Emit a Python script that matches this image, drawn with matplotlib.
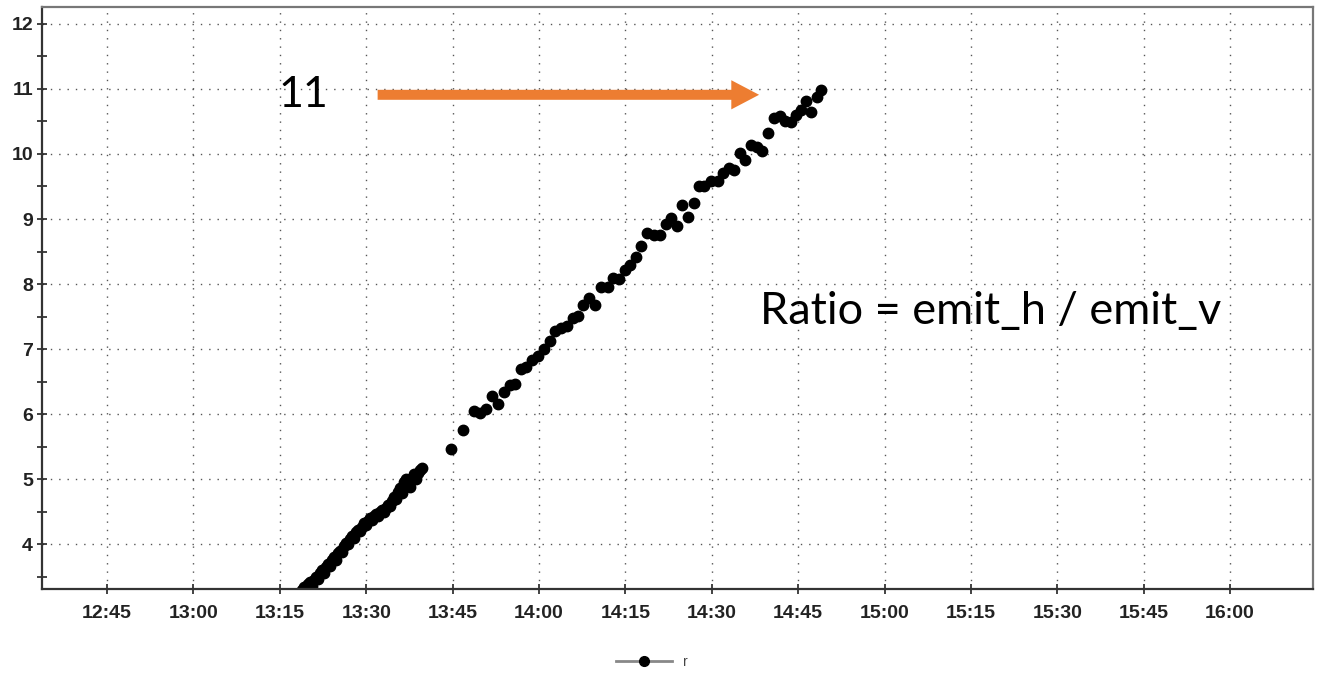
#####################################
# Import Modules
#####################################

import datetime

import matplotlib
matplotlib.use("Agg")
import matplotlib.pyplot as plt
import matplotlib.dates as mdates
from matplotlib.lines import Line2D
from matplotlib.ticker import MultipleLocator

#####################################
# Data - ratio r
# times are minutes after 13:00
#####################################

BASE = datetime.datetime(2020, 1, 1, 13, 0)

minutes = [
    18.9, 19.2, 19.6, 19.9, 20.2, 20.6, 20.9, 21.3, 21.6, 22.0,
    22.3, 22.7, 23.0, 23.3, 23.7, 24.0, 24.4, 24.7, 25.1, 25.4,
    25.8, 26.1, 26.5, 26.8, 27.2, 27.5, 27.9, 28.2, 28.6, 28.9,
    29.3, 29.6, 30.0, 30.3, 30.7, 31.0, 31.4, 31.7, 32.0, 32.4,
    32.7, 33.1, 33.4, 33.8, 34.1, 34.5, 34.8, 35.2, 35.5, 35.9,
    36.2, 36.6, 36.9, 37.3, 37.6, 38.0, 38.3, 38.6, 39.0, 39.3,
    39.7,
    44.7, 46.8, 48.8, 49.8, 50.8, 51.9, 52.9, 53.9, 55.0, 55.9,
    56.9, 57.8, 58.8, 59.8, 60.8, 61.9, 62.8, 63.8, 64.8, 65.9,
    66.8, 67.7, 68.7, 69.7, 70.7, 71.9, 72.9, 73.9, 74.9, 75.8,
    76.9, 77.8, 78.8, 79.9, 81.0, 82.0, 82.9, 83.9, 84.9, 85.8,
    86.9, 87.8, 88.7, 89.9, 91.0, 92.0, 93.0, 93.9, 94.9, 95.8,
    96.8, 97.8, 98.8, 99.8, 100.8, 101.9, 102.7, 103.7, 104.6, 105.5,
    106.4, 107.2, 108.2, 109.0,
]

ratio = [
    3.30, 3.34, 3.31, 3.38, 3.42, 3.36, 3.45, 3.50, 3.47, 3.56,
    3.60, 3.55, 3.65, 3.70, 3.66, 3.76, 3.80, 3.75, 3.86, 3.90,
    3.88, 3.97, 4.02, 4.00, 4.08, 4.12, 4.10, 4.18, 4.22, 4.20,
    4.27, 4.32, 4.29, 4.36, 4.40, 4.37, 4.44, 4.47, 4.43, 4.50,
    4.52, 4.49, 4.56, 4.60, 4.58, 4.66, 4.72, 4.70, 4.80, 4.86,
    4.78, 4.95, 5.00, 4.90, 4.88, 5.02, 5.08, 5.00, 5.10, 5.14,
    5.17,
    5.47, 5.76, 6.04, 6.01, 6.08, 6.28, 6.15, 6.34, 6.44, 6.47,
    6.69, 6.73, 6.83, 6.89, 7.00, 7.12, 7.28, 7.32, 7.35, 7.47,
    7.51, 7.68, 7.79, 7.68, 7.96, 7.96, 8.10, 8.07, 8.22, 8.30,
    8.42, 8.59, 8.79, 8.76, 8.76, 8.93, 9.01, 8.89, 9.22, 9.03,
    9.25, 9.50, 9.50, 9.59, 9.59, 9.71, 9.78, 9.75, 10.02, 9.91,
    10.14, 10.10, 10.04, 10.32, 10.56, 10.58, 10.50, 10.49, 10.60, 10.67,
    10.82, 10.64, 10.88, 10.98,
]

times = [BASE + datetime.timedelta(minutes=m) for m in minutes]


def at(m):
    """Time m minutes after 13:00."""
    return BASE + datetime.timedelta(minutes=m)


#####################################
# Figure
#####################################

plt.rcParams["font.family"] = ["Liberation Sans", "DejaVu Sans"]

fig = plt.figure(figsize=(13.2, 6.74), dpi=100)
ax = fig.add_axes([0.0318, 0.1261, 0.9629, 0.8635])

ax.plot(times, ratio, linestyle="none", marker="o", markersize=7.5,
        color="black")

ax.set_xlim(at(-26.3), at(194.4))
ax.set_ylim(3.31, 12.26)

ax.xaxis.set_major_locator(mdates.MinuteLocator(byminute=[0, 15, 30, 45]))
ax.xaxis.set_major_formatter(mdates.DateFormatter("%H:%M"))
ax.yaxis.set_major_locator(MultipleLocator(1))
ax.yaxis.set_minor_locator(MultipleLocator(0.5))

ax.grid(True, which="major", color="#555555", linestyle=(0, (1, 5)),
        linewidth=1.0)

ax.tick_params(axis="both", which="major", direction="inout", length=7,
               width=1.2, color="#222222", labelsize=14)
ax.tick_params(axis="y", which="minor", direction="inout", length=7,
               width=1.2, color="#222222")
ax.tick_params(axis="x", pad=8)
ax.tick_params(axis="y", pad=3)
for lab in ax.get_xticklabels() + ax.get_yticklabels():
    lab.set_fontweight("bold")
    lab.set_color("#222222")

for side in ["left", "bottom"]:
    ax.spines[side].set_color("#333333")
    ax.spines[side].set_linewidth(1.6)
for side in ["top", "right"]:
    ax.spines[side].set_color("#777777")
    ax.spines[side].set_linewidth(1.6)

#####################################
# Annotations
#####################################

ax.annotate("", xy=(at(98.7), 10.91), xytext=(at(31.5), 10.91),
            arrowprops=dict(arrowstyle="simple,head_length=1.0,head_width=1.05,tail_width=0.36",
                            mutation_scale=20, color="#ED7D31", lw=0))
ax.text(at(19.0), 10.9, "11", fontsize=31, family=["Lato", "DejaVu Sans"],
        ha="center", va="center", color="black")
ax.text(at(98.4), 7.57, "Ratio = emit_h / emit_v", fontsize=32.5,
        family=["Lato", "DejaVu Sans"], ha="left", va="center",
        color="black")

#####################################
# Legend
#####################################

handle = Line2D([], [], color="#888888", linewidth=2, marker="o",
                markersize=7, markerfacecolor="black",
                markeredgecolor="black")
fig.legend([handle], ["r"], loc="center", bbox_to_anchor=(0.494, 0.018),
           frameon=False, fontsize=10, handlelength=4, labelcolor="#444444")

fig.savefig("out.png", dpi=100)
